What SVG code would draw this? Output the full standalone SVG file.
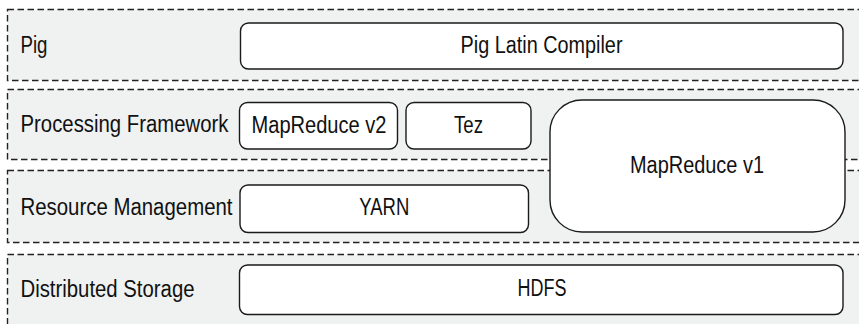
<svg xmlns="http://www.w3.org/2000/svg" width="859" height="324" viewBox="0 0 859 324">
<style>
.band{fill:#f0f1f1;stroke:#222;stroke-width:1.4;stroke-dasharray:6.5 3.5}
.box{fill:#fff;stroke:#1a1a1a;stroke-width:1.4}
text{font-family:"Liberation Sans Narrow","Liberation Sans",Arial,sans-serif;font-size:23.5px;fill:#111}
.c{text-anchor:middle}
</style>
<rect width="859" height="324" fill="#fff"/>
<g id="layer-pig"><rect class="band" x="7.5" y="9.5" width="870" height="71"/><text x="20.5" y="53" textLength="27" lengthAdjust="spacingAndGlyphs">Pig</text></g>
<g id="layer-processing"><rect class="band" x="7.5" y="89.5" width="870" height="70"/><text x="20.5" y="132" textLength="208" lengthAdjust="spacingAndGlyphs">Processing Framework</text></g>
<g id="layer-resource"><rect class="band" x="7.5" y="170.5" width="870" height="72"/><text x="20.5" y="214.5" textLength="212" lengthAdjust="spacingAndGlyphs">Resource Management</text></g>
<g id="layer-storage"><rect class="band" x="7.5" y="254.5" width="870" height="90"/><text x="20.5" y="296.5" textLength="174" lengthAdjust="spacingAndGlyphs">Distributed Storage</text></g>
<g id="pig-latin"><rect class="box" x="240.5" y="23" width="602.5" height="46" rx="8"/><text class="c" x="541.5" y="53" textLength="162" lengthAdjust="spacingAndGlyphs">Pig Latin Compiler</text></g>
<g id="mapreduce-v2"><rect class="box" x="239.5" y="102.5" width="158" height="46.5" rx="8"/><text class="c" x="319" y="132.5" textLength="135" lengthAdjust="spacingAndGlyphs">MapReduce v2</text></g>
<g id="tez"><rect class="box" x="406" y="102.5" width="125" height="46.5" rx="8"/><text class="c" x="468.5" y="132.5" textLength="29" lengthAdjust="spacingAndGlyphs">Tez</text></g>
<g id="mapreduce-v1"><rect class="box" x="550" y="100" width="295" height="132" rx="32"/><text class="c" x="697" y="172.5" textLength="134" lengthAdjust="spacingAndGlyphs">MapReduce v1</text></g>
<g id="yarn"><rect class="box" x="240" y="185" width="288.5" height="47.5" rx="8"/><text class="c" x="384.3" y="215" textLength="50" lengthAdjust="spacingAndGlyphs">YARN</text></g>
<g id="hdfs"><rect class="box" x="239.5" y="265" width="603.5" height="49.5" rx="8"/><text class="c" x="542" y="296" textLength="49" lengthAdjust="spacingAndGlyphs">HDFS</text></g>
<g id="connectors"></g>
</svg>
